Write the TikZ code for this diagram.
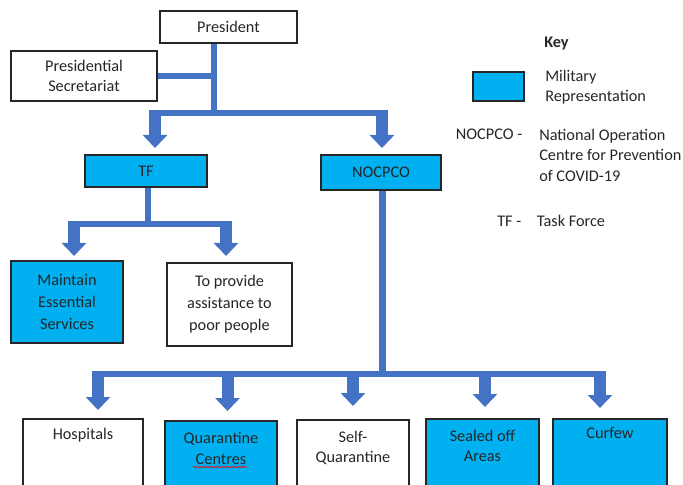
\documentclass[tikz,border=0pt]{standalone}
\usepackage{fontspec}
\setmainfont{Carlito}
\usetikzlibrary{arrows.meta,decorations.pathmorphing}
\definecolor{conn}{HTML}{4472C4}
\definecolor{mil}{HTML}{00B0F0}
\definecolor{ink}{HTML}{262626}
\begin{document}
\begin{tikzpicture}[x=0.75pt,y=-0.75pt,
  every node/.style={font=\fontsize{12.2}{15.5}\selectfont, text=ink},
  sz/.style 2 args={minimum width=#1*0.75pt, minimum height=#2*0.75pt},
  wbox/.style={draw=ink, line width=0.8pt, fill=white, inner sep=0pt, align=center},
  mbox/.style={wbox, fill=mil},
  tall/.style={font=\fontsize{12.2}{16.5}\selectfont},
  lbl/.style={inner sep=0pt, align=center},
  lbll/.style={inner sep=0pt, align=left, font=\fontsize{12.2}{15.2}\selectfont},
  bar/.style={draw=conn, line width=4.6pt},
  blk/.style={draw=conn, line width=9pt, -{Triangle[width=18pt 0 0, length=9.75pt 0 0]}},
  spell/.style={draw=red, line width=0.5pt, decorate, decoration={snake, amplitude=0.6pt, segment length=2.4pt}}
]
\useasboundingbox (0,0) rectangle (683,485);

% ---- top level boxes
\node[wbox, sz={137}{32}] (pres) at (228.5,27) {President};
\node[wbox, sz={146}{50}] (sec) at (84,76) {Presidential\\Secretariat};
\node[mbox, sz={122}{32}] (tf) at (146,171) {TF};
\node[mbox, sz={120}{35}] (noc) at (381,172.5) {NOCPCO};
\node[mbox, tall, sz={112}{82}] (mes) at (67,302) {Maintain\\Essential\\Services};
\node[wbox, tall, sz={125}{83}] (prov) at (229.5,304.5) {To provide\\assistance to\\poor people};

% ---- bottom boxes (cut by the lower edge)
\node[wbox, sz={120}{86}] (hosp) at (83,462) {};
\node[mbox, sz={112}{86}] (qc) at (221,464) {};
\node[wbox, sz={112}{86}] (sq) at (353,463) {};
\node[mbox, sz={113}{86}] (sea) at (482.5,462) {};
\node[mbox, sz={114}{86}] (cur) at (610,462) {};
\node[lbl, anchor=north] (hosp-t) at (83,427.5) {Hospitals};
\node[lbl, anchor=north] (qc-t) at (221,432) {Quarantine\\Centres};
\node[lbl, anchor=north] (sq-t) at (353,430.5) {Self-\\Quarantine};
\node[lbl, anchor=north] (sea-t) at (482.5,429.5) {Sealed off\\Areas};
\node[lbl, anchor=north] (cur-t) at (610,427.5) {Curfew};
\draw[spell] (193,467) -- (247,467);

% ---- key
\node[inner sep=0pt, anchor=base west, font=\fontsize{12.2}{15.5}\selectfont\bfseries] (keyt) at (544,48) {Key};
\node[mbox, sz={51}{29}] (keyb) at (498.5,86.5) {};
\node[lbll, anchor=north west] (keym) at (545,69.5) {Military\\Representation};
\node[inner sep=0pt, anchor=base west] (nocab) at (455.7,140) {NOCPCO -};
\node[lbll, anchor=north west] (nocdef) at (539,129) {National Operation\\Centre for Prevention\\of COVID-19};
\node[inner sep=0pt, anchor=base west] (tfab) at (497,227) {TF -};
\node[inner sep=0pt, anchor=base west] (tfdef) at (536.7,227) {Task Force};

% ---- connectors: President level
\coordinate (j1) at (214,113);
\draw[bar] (pres.south -| j1) -- (j1);
\draw[bar] (sec.east) -- (sec.east -| j1);
\coordinate (tfs) at (155,110);
\coordinate (tfp) at (155,148);
\coordinate (ncs) at (382,110);
\coordinate (ncp) at (382,148);
\draw[bar] (tfs |- j1) -- (ncs |- j1);
\draw[blk] (tfs) -- (tfp);
\draw[blk] (ncs) -- (ncp);

% ---- connectors: TF level
\coordinate (j2) at (148,224);
\draw[bar] (tf.south -| j2) -- (j2);
\coordinate (mess) at (74,221);
\coordinate (mesp) at (74,256);
\coordinate (provs) at (226,221);
\coordinate (provp) at (226,256);
\draw[bar] (mess |- j2) -- (provs |- j2);
\draw[blk] (mess) -- (mesp);
\draw[blk] (provs) -- (provp);

% ---- connectors: NOCPCO level
\coordinate (j3) at (382.5,374);
\draw[bar, line width=5pt] (noc.south -| j3) -- (j3);
\coordinate (hs) at (98,371);   \coordinate (hp) at (98,410);
\coordinate (qs) at (227.5,371); \coordinate (qp) at (227.5,411);
\coordinate (ss) at (353,371);  \coordinate (sp) at (353,406);
\coordinate (es) at (485,371);  \coordinate (ep) at (485,407);
\coordinate (cs) at (600,371);  \coordinate (cp) at (600,408);
\draw[bar] (hs |- j3) -- (cs |- j3);
\draw[blk] (hs) -- (hp);
\draw[blk] (qs) -- (qp);
\draw[blk] (ss) -- (sp);
\draw[blk] (es) -- (ep);
\draw[blk] (cs) -- (cp);
\end{tikzpicture}
\end{document}
